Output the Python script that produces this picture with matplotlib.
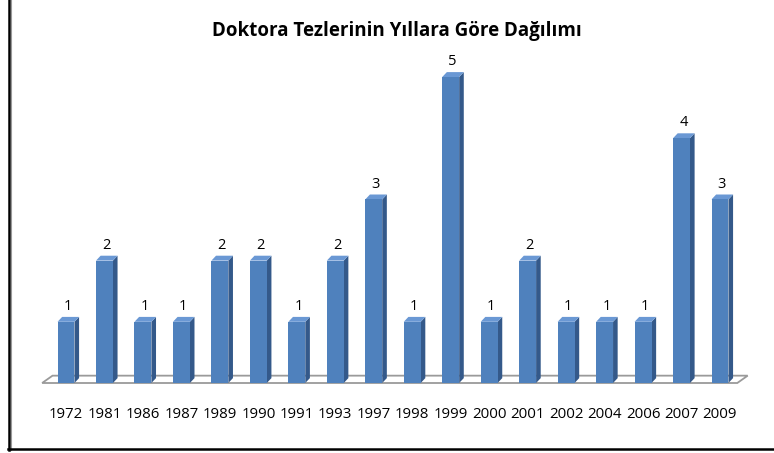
import matplotlib.pyplot as plt
from matplotlib.patches import Polygon, Rectangle
from matplotlib.lines import Line2D

years = ['1972', '1981', '1986', '1987', '1989', '1990', '1991', '1993', '1997',
         '1998', '1999', '2000', '2001', '2002', '2004', '2006', '2007', '2009']
counts = [1, 2, 1, 1, 2, 2, 1, 2, 3, 1, 5, 1, 2, 1, 1, 1, 4, 3]
title = 'Doktora Tezlerinin Yıllara Göre Dağılımı'

W, H = 774, 453
fig = plt.figure(figsize=(W / 100, H / 100), dpi=100)

# pixel mapping: index 0 at x=66, step 38.47 px; value 0 at y=383 from top, 61.2 px per unit
step, x0 = 38.47, 66
unit, y0 = 61.2, 383
xlo, xhi = -0.7, 18.0
ylo, yhi = -0.7, 5.8
ax = fig.add_axes([(x0 + xlo * step) / W, (H - y0 + ylo * unit) / H,
                   (xhi - xlo) * step / W, (yhi - ylo) * unit / H])
ax.set_xlim(xlo, xhi)
ax.set_ylim(ylo, yhi)
ax.axis('off')

w = 0.44      # front face width
dx = 0.12     # depth offset
dy = 0.08

# floor
fdx, fdy = 0.27, 0.12
n = len(counts)
floor = Polygon([(-0.62, 0), (n - 1 + 0.45, 0), (n - 1 + 0.45 + fdx, fdy), (-0.62 + fdx, fdy)],
                closed=True, facecolor='white', edgecolor='#9a9a9a', lw=1.3, zorder=1)
ax.add_patch(floor)

front_c = '#4F81BD'
side_c = '#34598A'
top_c = '#6A98D4'

for i, v in enumerate(counts):
    l, r = i - w / 2, i + w / 2
    ax.add_patch(Polygon([(r, 0), (r + dx, dy), (r + dx, v + dy), (r, v)],
                         closed=True, facecolor=side_c, edgecolor='none', zorder=3))
    ax.add_patch(Polygon([(l, v), (r, v), (r + dx, v + dy), (l + dx, v + dy)],
                         closed=True, facecolor=top_c, edgecolor='none', zorder=3))
    ax.add_patch(Rectangle((l, 0), w, v, facecolor=front_c, edgecolor='none', zorder=4))
    ax.text(i + 0.05, v + 0.25, str(v), ha='center', va='center',
            fontsize=10.5, family='Open Sans', color='black')
    ax.text(i, -0.52, years[i], ha='center', va='center',
            fontsize=10.8, family='Open Sans', color='black')

fig.text(397 / W, 1 - 31 / H, title, ha='center', va='center',
         fontsize=13.5, fontweight='bold', family='Open Sans')

# chart border (left and bottom edges)
fig.add_artist(Line2D([9 / W, 9 / W], [3 / H, 1], color='black', lw=1.8,
                      transform=fig.transFigure))
fig.add_artist(Line2D([10.5 / W, 10.5 / W], [3 / H, 1], color='#999999', lw=0.8,
                      transform=fig.transFigure))
fig.add_artist(Line2D([8 / W, 1], [4.5 / H, 4.5 / H], color='black', lw=1.8,
                      transform=fig.transFigure))

plt.savefig('out.png', dpi=100)
